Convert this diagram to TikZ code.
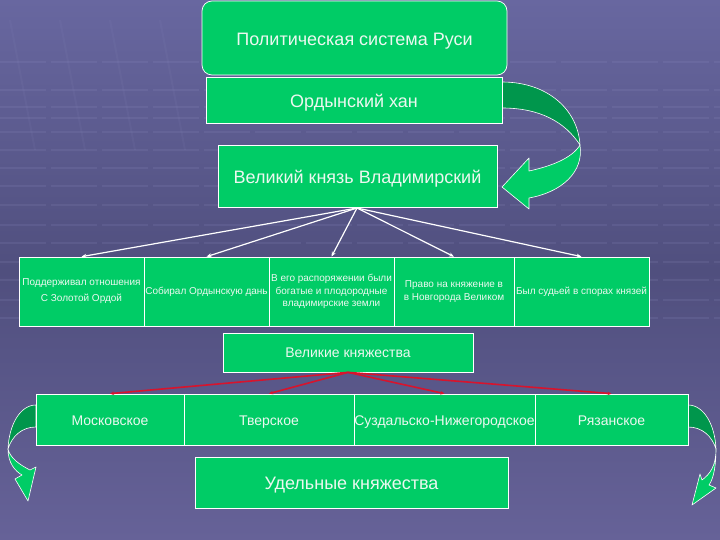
\documentclass[tikz,border=0pt]{standalone}
\usepackage{fontspec}
\setmainfont{Liberation Sans}
\usetikzlibrary{arrows.meta,calc}
\definecolor{bgtop}{RGB}{104,103,160}
\definecolor{bgmid}{RGB}{80,79,126}
\definecolor{bgbot}{RGB}{102,98,152}
\definecolor{bgline}{RGB}{150,150,200}
\definecolor{boxgreen}{RGB}{0,204,102}
\definecolor{darkgreen}{RGB}{0,150,76}
\definecolor{redline}{RGB}{215,20,45}
\definecolor{txt}{RGB}{236,248,240}
\begin{document}
\begin{tikzpicture}[x=1pt,y=-1pt,
  box/.style={draw=white, line width=0.7pt, fill=boxgreen, text=txt, inner sep=0pt, align=center},
  bigtext/.style={font=\fontsize{18}{21}\selectfont, text height=17pt, text depth=2.8pt},
  midtext/.style={font=\fontsize{14}{17}\selectfont},
  smalltext/.style={font=\fontsize{10}{12.2}\selectfont},
  botline/.style={font=\fontsize{14}{17}\selectfont, text height=14pt, text depth=3pt},
  wharrow/.style={draw=white, line width=1.2pt, -{Stealth[length=5pt,width=4pt]}},
  redarrow/.style={draw=redline, line width=1.6pt, -{Stealth[length=4pt,width=3.5pt]}},
  curvearrow/.style={draw=white, line width=0.6pt, line join=round},
  bgl/.style={draw=bgline, opacity=0.15, line width=1.2pt}
]
\useasboundingbox (0,0) rectangle (720,540);
\shade[top color=bgtop, bottom color=bgbot, middle color=bgmid] (0,0) rectangle (720,540);
% background texture
\foreach \yy in {62,90,107,118,132,150,168,186,205,225,243,262,280,300,318}
  \draw[bgl, dash pattern=on 46pt off 5pt] (0,\yy) -- (720,\yy);
\foreach \xx in {10,60,110,160}
  \draw[bgl, opacity=0.08, line width=2pt] (\xx,20) -- (\xx+25,150);

% top-right curved arrow
\filldraw[curvearrow, fill=darkgreen] (502,82) .. controls (548,82) and (578,110) .. (580,145)
  .. controls (565,122) and (540,108) .. (502,108) -- cycle;
\filldraw[curvearrow, fill=boxgreen] (580,145) .. controls (584,172) and (562,192) .. (529,198)
  -- (529,209) -- (502,187) -- (529,158) -- (529,171)
  .. controls (552,166) and (572,158) .. (580,145) -- cycle;

% bottom-left curved arrow
\filldraw[curvearrow, fill=darkgreen] (36,405) .. controls (20,405) and (9,425) .. (8,449)
  .. controls (12,436) and (22,427) .. (36,427) -- cycle;
\filldraw[curvearrow, fill=boxgreen] (8,449) .. controls (8,463) and (15,471) .. (22,475)
  -- (15,479) -- (28,501) -- (36,467) -- (30,470)
  .. controls (20,465) and (10,458) .. (8,449) -- cycle;

% bottom-right curved arrow
\filldraw[curvearrow, fill=darkgreen] (688,405) .. controls (704,405) and (715,425) .. (716,449)
  .. controls (712,436) and (702,427) .. (688,427) -- cycle;
\filldraw[curvearrow, fill=boxgreen] (716,449) .. controls (716,466) and (710,474) .. (702,480)
  -- (700,474) -- (692,505) -- (716,488) -- (709,485)
  .. controls (714,478) and (716,464) .. (716,449) -- cycle;

% top boxes
\node[box, bigtext, minimum width=296pt, minimum height=46pt] (khan) at (354,100) {Ордынский хан};
\node[box, bigtext, rounded corners=10pt, minimum width=305pt, minimum height=74pt] (title) at (354.5,38) {Политическая система Руси};
\node[box, bigtext, minimum width=279pt, minimum height=62pt] (vk) at (357.5,176) {Великий князь Владимирский};

% middle row
\node[box, font=\fontsize{10}{16}\selectfont, minimum width=125pt, minimum height=69pt] (m1) at (81.5,291.5) {Поддерживал отношения\\С Золотой Ордой};
\node[box, smalltext, minimum width=125pt, minimum height=69pt] (m2) at (206.5,291.5) {Собирал Ордынскую дань};
\node[box, smalltext, minimum width=125pt, minimum height=69pt] (m3) at (331.5,291.5) {В его распоряжении были\\богатые и плодородные\\владимирские земли};
\node[box, smalltext, minimum width=120pt, minimum height=69pt] (m4) at (454,291.5) {Право на княжение в\\в Новгорода Великом};
\node[box, smalltext, minimum width=135pt, minimum height=69pt] (m5) at (581.5,291.5) {Был судьей в спорах князей};

\coordinate (vkb) at (357,208);
\foreach \m in {m1,m2,m3,m4,m5}
  \draw[wharrow] (vkb) -- (\m.north);

% Great principalities
\node[box, midtext, minimum width=250pt, minimum height=39pt] (vkn) at (348,352.5) {Великие княжества};

% bottom row
\node[box, botline, minimum width=148pt, minimum height=51pt] (b1) at (110,419.5) {Московское};
\node[box, botline, minimum width=170pt, minimum height=51pt] (b2) at (269,419.5) {Тверское};
\node[box, botline, minimum width=181pt, minimum height=51pt] (b3) at (444.5,419.5) {Суздальско-Нижегородское};
\node[box, botline, minimum width=153pt, minimum height=51pt] (b4) at (611.5,419.5) {Рязанское};

\foreach \b in {b1,b2,b3,b4}
  \draw[redarrow] (vkn.south) -- (\b.north);

\node[box, bigtext, minimum width=313pt, minimum height=51pt] (udel) at (351.5,482.5) {Удельные княжества};
\end{tikzpicture}
\end{document}
